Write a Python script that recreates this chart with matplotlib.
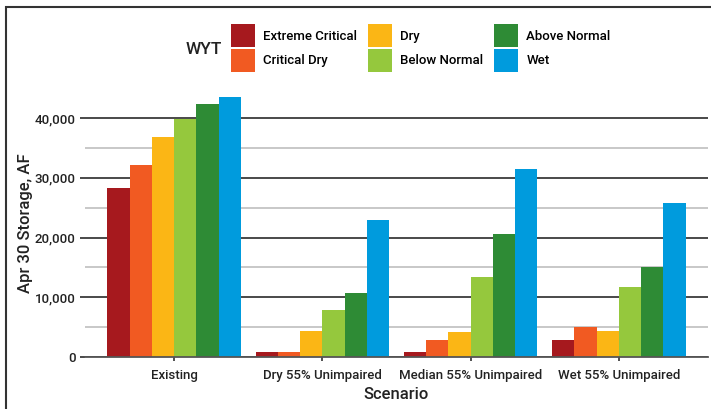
import numpy as np
import matplotlib.pyplot as plt
from matplotlib.patches import Rectangle
from matplotlib.ticker import MultipleLocator, FuncFormatter

plt.rcParams['font.family'] = ['Roboto', 'Liberation Sans', 'DejaVu Sans']
plt.rcParams['font.weight'] = 'medium'
plt.rcParams['axes.labelweight'] = 'medium'

scenarios = ['Existing', 'Dry 55% Unimpaired', 'Median 55% Unimpaired', 'Wet 55% Unimpaired']
wyt = ['Extreme Critical', 'Critical Dry', 'Dry', 'Below Normal', 'Above Normal', 'Wet']
colors = ['#A6191E', '#F15A22', '#FBB615', '#95C83D', '#2E8B35', '#009BDD']

extreme_critical = [28300, 850, 900, 2850]
critical_dry = [32200, 800, 2900, 5000]
dry = [36900, 4400, 4250, 4350]
below_normal = [39900, 7900, 13400, 11700]
above_normal = [42400, 10800, 20600, 15000]
wet = [43600, 23000, 31500, 25800]
series = [extreme_critical, critical_dry, dry, below_normal, above_normal, wet]

W, H = 711, 409
fig = plt.figure(figsize=(W / 100, H / 100), dpi=100)
ax = fig.add_axes([85 / W, 1 - 357 / H, (708 - 85) / W, (357 - 89) / H])

x = np.arange(len(scenarios))
bw = 0.15
handles = []
for i, (vals, c, lab) in enumerate(zip(series, colors, wyt)):
    b = ax.bar(x + (i - 2.5) * bw, vals, bw, color=c, label=lab, zorder=3)
    handles.append(b)

ax.set_xlim(-0.6, 3.6)
ax.set_ylim(0, 44900)
ax.yaxis.set_major_locator(MultipleLocator(10000))
ax.yaxis.set_minor_locator(MultipleLocator(5000))
ax.yaxis.set_major_formatter(FuncFormatter(lambda v, p: f'{int(v):,}'))
ax.grid(axis='y', which='major', color='#3a3a3a', lw=1.3, zorder=1)
ax.grid(axis='y', which='minor', color='#c4c4c4', lw=1.3, zorder=1)
ax.tick_params(axis='y', which='major', length=3.8, width=1.3, color='#3a3a3a',
               labelsize=9.5, labelcolor='#222222', pad=3)
ax.tick_params(axis='y', which='minor', length=0)
ax.set_xticks(x)
ax.set_xticklabels(scenarios)
ax.tick_params(axis='x', length=3, width=1.2, color='#333333', labelsize=9.5,
               labelcolor='#222222', pad=6)
for s in ['top', 'right', 'left']:
    ax.spines[s].set_visible(False)
ax.spines['bottom'].set_color('#555555')
ax.spines['bottom'].set_linewidth(1.3)
ax.spines['bottom'].set_zorder(4)

ax.set_ylabel('Apr 30 Storage, AF', fontsize=12, color='#222222', labelpad=1)
ax.set_xlabel('Scenario', fontsize=12, color='#222222', labelpad=3)

fig.legend(handles=handles, labels=wyt, ncol=3, loc='upper left',
           bbox_to_anchor=(231 / W, 1 - 24 / H), frameon=False, fontsize=9.5,
           handlelength=1.85, handleheight=2.3, labelspacing=0.12,
           handletextpad=0.6, columnspacing=0.8, borderpad=0, borderaxespad=0)
fig.text(204 / W, 1 - 50 / H, 'WYT', fontsize=12.5, ha='center', va='center', color='#222222')

fig.patches.append(Rectangle((6 / W, -0.1), 1.2, 1.1 - 7 / H, transform=fig.transFigure,
                             fill=False, edgecolor='#333333', lw=1.5))

fig.savefig('out.png', dpi=100)
